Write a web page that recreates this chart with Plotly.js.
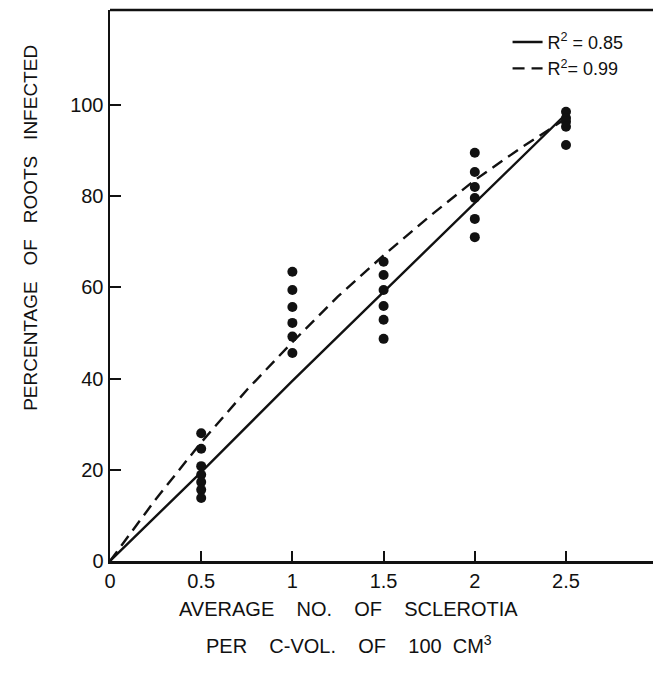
<!DOCTYPE html>
<html>
<head>
<meta charset="utf-8">
<script src="https://cdn.plot.ly/plotly-3.0.1.min.js"></script>
<style>html,body{margin:0;padding:0;background:#fff;}</style>
</head>
<body>
<div id="chart" style="width:653px;height:686px;"></div>
<script>
// Observed points (sclerotia per 100 cm3 vs % roots infected)
const pointsX = [0.5,0.5,0.5,0.5,0.5,0.5,0.5,
                 1,1,1,1,1,1,
                 1.5,1.5,1.5,1.5,1.5,1.5,
                 2,2,2,2,2,2,
                 2.5,2.5,2.5,2.5,2.5];
const pointsY = [28,24.6,20.8,18.9,17.3,15.6,13.8,
                 63.4,59.4,55.7,52.2,49.2,45.6,
                 65.6,62.7,59.4,55.9,52.9,48.7,
                 89.5,85.3,82,79.6,75,71,
                 98.5,97.1,96.3,95.2,91.2];
// Linear fit (R2 = 0.85)
const linearX = [0, 0.5, 1, 1.5, 2, 2.5];
const linearY = [0, 19.5, 39.5, 59, 78.5, 98];
// Curvilinear fit (R2 = 0.99)
const curveX = [0, 0.25, 0.5, 0.75, 1, 1.25, 1.5, 1.75, 2, 2.25, 2.5];
const curveY = [0, 13.5, 26, 37.5, 48, 58, 67, 75.5, 83.5, 90.5, 97];
const xTicks = [0, 0.5, 1, 1.5, 2, 2.5];
const xTickText = ['0', '0.5', '1', '1.5', '2', '2.5'];
const yTicks = [0, 20, 40, 60, 80, 100];
const yTickText = ['0', '20', '40', '60', '80', '100'];

const font = 'Liberation Sans, Arial, Helvetica, sans-serif';
const sp = '&nbsp;&nbsp;&nbsp;';
const sp4 = '&nbsp;&nbsp;&nbsp;&nbsp;';

const traces = [
  {x: linearX, y: linearY, mode: 'lines', name: 'R<sup>2</sup> = 0.85',
   line: {color: '#111', width: 2.4}},
  {x: curveX, y: curveY, mode: 'lines', name: 'R<sup>2</sup>= 0.99',
   line: {color: '#111', width: 2.4, dash: '12px,7px'}},
  {x: pointsX, y: pointsY, mode: 'markers', showlegend: false,
   marker: {color: '#111', size: 10}}
];

const layout = {
  width: 653, height: 686,
  margin: {l: 110, r: 0, t: 10, b: 125},
  paper_bgcolor: '#fff', plot_bgcolor: '#fff',
  font: {family: font, color: '#111', size: 19},
  showlegend: true,
  legend: {x: 0.955, y: 0.975, xanchor: 'right', yanchor: 'top',
           bgcolor: 'rgba(0,0,0,0)', font: {size: 18, family: font},
           tracegroupgap: 0, itemwidth: 30},
  xaxis: {range: [0, 2.977], tickvals: xTicks, ticktext: xTickText,
          ticks: 'inside', ticklen: 10, tickwidth: 2, tickcolor: '#111',
          showline: true, linecolor: '#111', linewidth: 2.5,
          showgrid: false, zeroline: false,
          tickfont: {size: 20, family: font}},
  yaxis: {range: [0, 120.8], tickvals: yTicks, ticktext: yTickText,
          ticks: 'inside', ticklen: 11, tickwidth: 2, tickcolor: '#111',
          showline: true, linecolor: '#111', linewidth: 2.5,
          showgrid: false, zeroline: false,
          tickfont: {size: 20, family: font}},
  shapes: [
    {type: 'line', xref: 'paper', yref: 'paper', x0: 0, x1: 1, y0: 1, y1: 1,
     line: {color: '#111', width: 2.5}}
  ],
  annotations: [
    {text: 'PERCENTAGE' + sp + 'OF' + sp + 'ROOTS' + sp + 'INFECTED',
     xref: 'paper', yref: 'paper', x: -0.17, y: 0.605, textangle: -90,
     showarrow: false, font: {size: 19, family: font}},
    {text: 'AVERAGE' + sp4 + 'NO.' + sp4 + 'OF' + sp4 + 'SCLEROTIA',
     xref: 'paper', yref: 'paper', x: 0.44, y: -0.087, yanchor: 'middle',
     showarrow: false, font: {size: 20, family: font}},
    {text: 'PER' + sp4 + 'C-VOL.' + sp4 + 'OF' + sp4 + '100&nbsp;&nbsp;CM<sup>3</sup>',
     xref: 'paper', yref: 'paper', x: 0.44, y: -0.152, yanchor: 'middle',
     showarrow: false, font: {size: 20, family: font}}
  ]
};

Plotly.newPlot('chart', traces, layout, {displayModeBar: false, staticPlot: true});
</script>
</body>
</html>
